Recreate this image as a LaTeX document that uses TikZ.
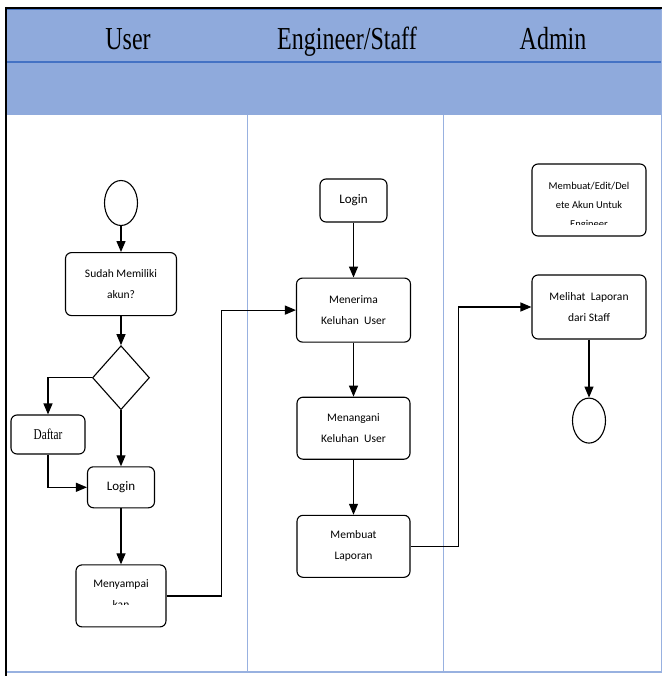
\documentclass[tikz,border=0pt]{standalone}
\usepackage{fontspec}
\setmainfont{Carlito}
\newfontfamily\headfont[FakeStretch=0.75]{Liberation Serif}
\usetikzlibrary{positioning,shapes.geometric,arrows.meta}
\tikzset{line/.style={draw, line width=1.2pt, -{Triangle[length=11pt,width=9pt]}}}
\definecolor{laneblue}{HTML}{8FAADC}
\definecolor{laneline}{HTML}{4472C4}
\definecolor{lanethin}{HTML}{98B1E0}

\begin{document}
\begin{tikzpicture}[x=1pt, y=-1pt, node distance=26pt]
\tikzstyle{block} = [rectangle, rounded corners=6pt, draw, line width=1.1pt, align=center, font=\fontsize{11.5}{21}\selectfont, inner sep=2pt]
\tikzstyle{decision} = [diamond, draw, line width=1.1pt, minimum width=57pt, minimum height=64pt, inner sep=0pt]
\tikzstyle{terminal} = [ellipse, draw, line width=1.1pt, minimum width=33pt, minimum height=45pt, inner sep=0pt]
\tikzstyle{lanetitle} = [anchor=base, font=\headfont\fontsize{32}{32}\selectfont]

\useasboundingbox (0,0) rectangle (662,676);

% swimlanes
\fill[laneblue] (7,9) rectangle (662,115);
\draw[laneline, line width=1.5pt] (7,62) -- (662,62);
\draw[laneline, line width=1pt] (7,10) -- (662,10);
\draw[lanethin, line width=1pt] (247,115) -- (247,672) (443,115) -- (443,672) (661,9) -- (661,672);
\draw[lanethin, line width=2pt] (7,672) -- (662,672);
\draw[line width=2pt] (5,8) -- (662,8);
\draw[line width=2.5pt] (6,7) -- (6,676);

\node[lanetitle] (user) at (128,50) {User};
\node[lanetitle] (staff) at (347,50) {Engineer/Staff};
\node[lanetitle] (admin) at (553,50) {Admin};

% user
\node[terminal] (start) at (121,203) {};
\node[block, below=26pt of start, minimum width=111pt, minimum height=63pt] (akun) {Sudah Memiliki\\akun?};
\node[decision, below=29pt of akun] (cek) {};
\node[block, below=56pt of cek, minimum width=67pt, minimum height=41pt, font=\fontsize{13}{15}\selectfont] (loginuser) {Login};
\node[block, minimum width=74pt, minimum height=39pt, font=\headfont\fontsize{15}{15}\selectfont] (daftar) at (48,434.5) {Daftar};
\node[block, below=56pt of loginuser, minimum width=90pt, minimum height=62pt] (sampaikan) {};
\begin{scope}
\clip (77,561) rectangle (165,604);
\node[align=center, font=\fontsize{11.5}{21}\selectfont] (sampaikantext) at (121,594.5) {Menyampai\\kan};
\end{scope}

% engineer/staff
\node[block, minimum width=67pt, minimum height=43pt, font=\fontsize{13}{15}\selectfont] (loginstaff) at (353.5,200.5) {Login};
\node[block, below=55pt of loginstaff, minimum width=114pt, minimum height=64pt] (terima) {Menerima\\Keluhan\ \ User};
\node[block, below=54pt of terima, minimum width=113pt, minimum height=62pt] (tangani) {Menangani\\Keluhan\ \ User};
\node[block, below=55pt of tangani, minimum width=113pt, minimum height=62pt] (laporan) {Membuat\\Laporan};

% admin
\node[block, minimum width=114pt, minimum height=72pt] (kelola) at (589,200) {};
\begin{scope}
\clip (533,165) rectangle (645,224);
\node[align=center, font=\fontsize{10.5}{19}\selectfont] (kelolatext) at (589,206) {Membuat/Edit/Del\\ete Akun Untuk\\Engineer};
\end{scope}
\node[block, minimum width=114pt, minimum height=64pt] (lihat) at (589,307) {Melihat\ \ Laporan\\dari Staff};
\node[terminal, below=58pt of lihat] (finish) {};

\path [line] (start) -- (akun);
\path [line] (akun) -- (cek);
\path [line] (cek.west) -| (daftar.north);
\path [line] (cek.south) -- (loginuser);
\path [line] (daftar.south) |- (loginuser.west);
\path [line] (loginuser) -- (sampaikan);
\path [line] (sampaikan.east) -- ++(55,0) |- (terima.west);
\path [line] (loginstaff) -- (terima);
\path [line] (terima) -- (tangani);
\path [line] (tangani) -- (laporan);
\path [line] (laporan.east) -- ++(48,0) |- (lihat.west);
\path [line] (lihat) -- (finish);

\end{tikzpicture}
\end{document}
